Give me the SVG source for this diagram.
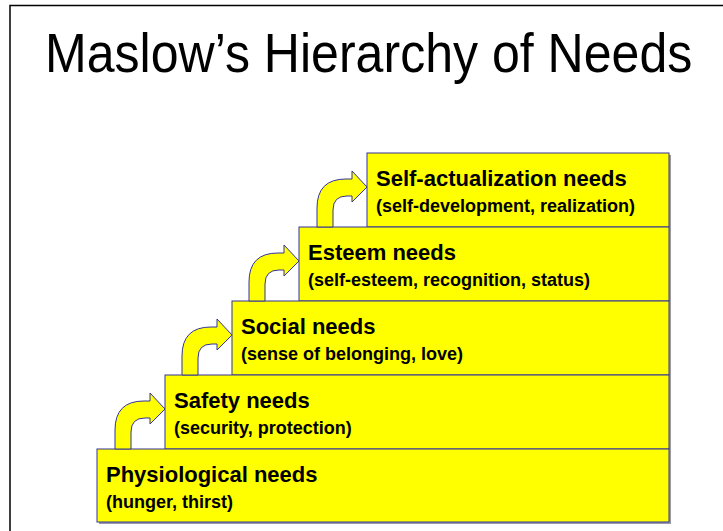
<svg xmlns="http://www.w3.org/2000/svg" width="723" height="531" viewBox="0 0 723 531">
<style>
.box{fill:#FFFF00;stroke:#333399;stroke-width:1}
.shadow{fill:#9a9aaa}
.arrow{fill:#FFFF00;stroke:#333399;stroke-width:1;stroke-linejoin:miter}
.h{font-family:"Liberation Sans",Arial,sans-serif;font-weight:bold;font-size:22px;fill:#000}
.s{font-family:"Liberation Sans",Arial,sans-serif;font-weight:bold;font-size:18px;fill:#000}
.title{font-family:"Liberation Sans",Arial,sans-serif;font-size:56px;fill:#000}
</style>
<rect width="723" height="531" fill="#fff"/>
<path d="M10,531 L10,5.5 L723,5.5" fill="none" stroke="#000" stroke-width="1.5"/>
<text class="title" x="0" y="0" transform="translate(45,72) scale(0.894,1)">Maslow’s Hierarchy of Needs</text>

<g id="self-actualization">
<rect class="shadow" x="369" y="155" width="302" height="74"/>
<rect class="box" x="367" y="153" width="302" height="74"/>
<text class="h" x="376" y="186">Self-actualization needs</text>
<text class="s" x="376" y="212">(self-development, realization)</text>
</g>
<g id="esteem">
<rect class="shadow" x="301" y="229" width="370" height="74"/>
<rect class="box" x="299" y="227" width="370" height="74"/>
<text class="h" x="308" y="260">Esteem needs</text>
<text class="s" x="308" y="286">(self-esteem, recognition, status)</text>
</g>
<g id="social">
<rect class="shadow" x="234" y="303" width="437" height="74"/>
<rect class="box" x="232" y="301" width="437" height="74"/>
<text class="h" x="241" y="334">Social needs</text>
<text class="s" x="241" y="360">(sense of belonging, love)</text>
</g>
<g id="safety">
<rect class="shadow" x="167" y="377" width="504" height="74"/>
<rect class="box" x="165" y="375" width="504" height="74"/>
<text class="h" x="174" y="408">Safety needs</text>
<text class="s" x="174" y="434">(security, protection)</text>
</g>
<g id="physiological">
<rect class="shadow" x="99" y="451" width="572" height="73"/>
<rect class="box" x="97" y="449" width="572" height="73"/>
<text class="h" x="106" y="482">Physiological needs</text>
<text class="s" x="106" y="508">(hunger, thirst)</text>
</g>

<defs>
<path id="bent" class="arrow" d="M-50,0 L-50,-19 Q-50,-48 -21,-48 L-15,-48 L-15,-56 L0,-40 L-15,-25 L-15,-31 L-20,-31 Q-34,-31 -34,-17 L-34,0 Z"/>
</defs>
<g id="connectors">
<use href="#bent" x="165" y="449"/>
<use href="#bent" x="232" y="375"/>
<use href="#bent" x="299" y="301"/>
<use href="#bent" x="367" y="227"/>
</g>
</svg>
